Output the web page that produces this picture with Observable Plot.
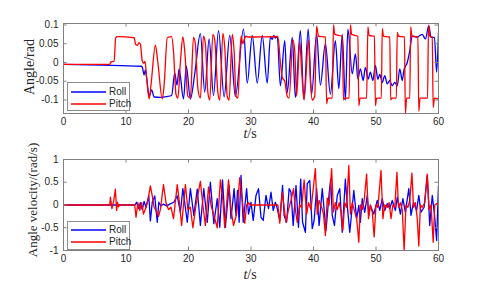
<!DOCTYPE html>
<html>
<head>
<meta charset="utf-8">
<script src="https://cdn.jsdelivr.net/npm/d3@7"></script>
<script src="https://cdn.jsdelivr.net/npm/@observablehq/plot@0.6"></script>
<style>
  html, body { margin: 0; padding: 0; background: #fff; }
  #chart { position: relative; width: 485px; height: 290px; overflow: hidden; background: #fff; }
  #chart svg.plot { position: absolute; left: 0; }
  .ylab, .xlab { position: absolute; font-family: "Liberation Serif", "Times New Roman", serif; color: #262626; white-space: nowrap; }
  .ylab { transform: translate(-50%, -50%) rotate(-90deg); }
  .xlab { transform: translate(-50%, -50%); }
  .legend { position: absolute; border: 1px solid #8c8c8c; background: #fff; box-sizing: border-box; }
  .legend .row { position: absolute; left: 0; height: 0; font-family: "Liberation Sans", Arial, sans-serif; font-size: 10px; color: #262626; }
  .legend .row svg { position: absolute; left: 3px; top: -2px; }
  .legend .row span.t { position: absolute; left: 41px; top: -6px; line-height: 12px; }
</style>
</head>
<body>
<div id="chart"></div>
<script>
// ---- Data ----
const timeTicks = [0, 10, 20, 30, 40, 50, 60];
const angleTicks = [-0.1, -0.05, 0, 0.05, 0.1];
const rateTicks = [-1, -0.5, 0, 0.5, 1];
const seriesNames = ["Roll", "Pitch"];
const seriesColors = ["#0000ff", "#ff0000"];

// Roll angle [t (s), angle (rad)]
const rollAngle = [
  [0,-0.005],[6,-0.007],[12.4,-0.01],[12.6,-0.012],[12.9,-0.033],[13.1,-0.02],[13.3,-0.04],[13.7,-0.09],
  [14.1,-0.073],[14.5,-0.092],[15.5,-0.093],[16.5,-0.091],[17.3,-0.088],[17.8,-0.028],[18.15,-0.06],
  [18.5,-0.018],[19.2,-0.097],[19.65,-0.01],[20.3,-0.097],[21.0,-0.03],[21.9,0.077],[22.6,-0.079],
  [23.3,0.063],[24.0,-0.088],[24.8,0.085],[25.7,-0.092],[26.6,0.072],[27.5,-0.09],[28.8,0.089],
  [29.4,-0.055],[30.2,0.072],[31.0,-0.055],[31.8,0.072],[32.6,-0.055],[33.1,0.068],[33.4,0.062],
  [33.65,0.072],[33.9,0.065],[34.2,0.07],[34.7,-0.062],[35.4,0.058],[35.8,-0.08],[36.6,0.067],
  [37.1,-0.093],[37.9,0.085],[38.45,-0.097],[39.15,0.089],[39.7,-0.084],[40.5,0.076],[41.1,-0.06],
  [41.9,0.05],[42.7,-0.084],[43.5,0.058],[44.05,-0.07],[44.6,0.075],[45.1,-0.1],[45.5,0.089],
  [46.2,-0.03],[46.7,0.023],[47.1,-0.044],[47.5,-0.017],[47.95,-0.048],[48.3,-0.013],[48.75,-0.044],
  [49.1,-0.026],[49.5,-0.048],[49.9,-0.008],[50.3,-0.045],[50.6,-0.032],[51.0,-0.053],[51.4,-0.035],
  [51.8,-0.057],[52.2,-0.048],[52.6,-0.062],[53.0,-0.053],[53.4,-0.062],[53.8,-0.017],[54.2,-0.048],
  [54.45,-0.022],[55.0,0.0],[55.4,0.031],[55.8,0.071],[56.6,0.067],[57.0,0.072],[57.4,0.075],
  [57.9,0.063],[58.45,0.098],[58.8,0.067],[59.35,0.067],[59.7,-0.026],[60,0.08]
];

// Pitch angle [t (s), angle (rad)]
const pitchAngle = [
  [0,-0.005],[7.4,-0.005],[7.6,0.002],[8.1,0.003],[8.35,0.066],[8.6,0.069],[11.3,0.066],[11.55,0.048],
  [11.85,0.046],[12.05,0.053],[12.3,0.049],[12.6,0.004],[12.85,-0.002],[13.05,0.003],[13.3,-0.04],
  [13.7,-0.097],[14.0,-0.06],[14.7,0.046],[15.1,0.0],[15.8,-0.097],[16.1,-0.06],[16.6,0.066],
  [17.3,0.069],[17.6,0.03],[18.0,-0.085],[18.3,-0.095],[18.7,0.0],[19.1,0.068],[19.4,0.03],
  [19.9,-0.09],[20.3,-0.095],[20.8,0.067],[21.1,0.05],[21.5,-0.07],[21.9,-0.095],[22.4,0.07],
  [22.7,0.05],[23.1,-0.08],[23.4,-0.1],[23.9,0.075],[24.2,0.06],[24.7,-0.08],[25.0,-0.1],
  [25.5,0.078],[25.8,0.04],[26.2,-0.09],[26.5,-0.1],[27.0,0.075],[27.3,0.03],[27.6,-0.09],
  [27.9,-0.095],[28.4,0.07],[28.7,0.05],[28.9,0.06],[29.2,0.07],[29.5,0.068],[34.3,0.069],
  [34.7,0.0],[35.0,-0.04],[35.4,-0.05],[35.8,-0.09],[36.1,-0.095],[36.7,0.06],[37.0,0.03],
  [37.3,-0.09],[37.8,0.055],[38.1,-0.02],[38.5,-0.1],[39.2,0.06],[39.5,-0.05],[39.8,-0.1],
  [40.2,-0.09],[40.5,0.097],[40.8,0.07],[41.9,0.068],[42.1,-0.11],[42.3,-0.095],[43.0,-0.095],
  [43.2,0.1],[43.4,0.075],[44.6,0.07],[44.8,-0.1],[45.0,-0.095],[45.7,-0.095],[45.9,0.1],
  [46.1,0.075],[47.1,0.07],[47.25,-0.115],[47.45,-0.095],[48.5,-0.095],[48.7,0.095],[48.9,0.072],
  [49.75,0.07],[49.9,-0.115],[50.1,-0.095],[50.85,-0.095],[51.0,0.09],[51.2,0.07],[52.2,0.068],
  [52.35,-0.1],[52.55,-0.095],[53.25,-0.095],[53.4,0.08],[53.6,0.07],[54.55,0.068],[54.7,-0.136],
  [54.9,-0.095],[55.4,-0.095],[55.55,0.095],[55.75,0.07],[56.7,0.068],[56.85,-0.13],[57.05,-0.095],
  [58.25,-0.095],[58.4,0.1],[58.6,0.07],[59.0,0.068],[59.15,-0.12],[59.35,-0.095],[60,-0.097]
];

// Roll angular velocity [t (s), rate (rad/s)]
const rollRate = [
  [0,0],[11.4,0],[11.7,0.06],[12.0,-0.08],[12.3,0.05],[12.6,-0.1],[12.9,0.08],[13.2,-0.05],
  [13.65,0.2],[13.9,-0.35],[14.2,0.06],[14.6,0.2],[15.0,-0.38],[15.25,0.06],[15.6,-0.02],[16.0,0.02],
  [16.5,-0.02],[17.0,0.02],[17.65,0.06],[18.2,0.2],[18.7,-0.16],[19.1,0.36],[19.8,-0.38],[20.3,0.36],
  [20.85,-0.23],[21.4,0.35],[21.9,-0.45],[22.45,0.36],[23.0,-0.38],[23.5,0.5],[24.05,-0.41],
  [24.6,0.14],[25.0,-0.49],[25.44,0.55],[25.9,-0.49],[26.5,0.43],[26.8,-0.3],[27.3,0.36],
  [27.6,-0.23],[27.85,0.32],[28.1,-0.38],[28.4,0.65],[28.75,-0.38],[29.3,0.36],[29.6,-0.2],
  [30.0,0.06],[30.35,-0.34],[30.8,0.21],[31.2,0.36],[31.6,-0.27],[31.95,-0.34],[32.4,0.21],
  [32.8,-0.08],[33.2,0.28],[33.55,-0.12],[33.9,0.06],[34.2,-0.08],[34.6,-0.34],[35.05,0.43],
  [35.3,-0.23],[35.7,-0.38],[36.1,0.36],[36.4,0.28],[36.75,-0.45],[37.2,0.43],[37.6,-0.49],
  [37.95,0.57],[38.25,-0.38],[38.7,-0.6],[39.0,0.47],[39.4,0.54],[39.8,-0.52],[40.1,-0.34],
  [40.5,0.36],[40.9,-0.45],[41.4,0.36],[42.0,-0.56],[42.5,0.25],[42.75,0.57],[43.0,-0.23],
  [43.35,-0.45],[43.8,0.21],[44.2,0.36],[44.6,-0.6],[45.1,0.57],[45.4,-0.01],[45.8,-0.6],
  [46.45,0.32],[46.9,-0.3],[47.25,-0.01],[47.5,-0.38],[47.8,0.14],[48.2,-0.16],[48.6,0.21],
  [48.85,-0.23],[49.1,-0.01],[49.65,-0.2],[50.2,0.1],[50.6,-0.12],[51.0,0.14],[51.4,-0.12],
  [51.8,0.03],[52.2,-0.08],[52.6,0.1],[53.1,-0.12],[53.4,0.17],[53.9,-0.2],[54.3,0.14],[54.7,-0.16],
  [55.25,0.36],[55.6,-0.23],[56.0,0.06],[56.5,-0.12],[56.85,0.21],[57.2,-0.16],[57.7,-0.05],
  [58.2,0.65],[58.6,-0.45],[59.0,0.21],[59.35,-0.2],[59.7,-0.78],[60,0.43]
];

// Pitch angular velocity [t (s), rate (rad/s)]
const pitchRate = [
  [0,0],[7.4,0],[7.5,0.17],[7.75,-0.08],[8.05,0.1],[8.3,0.35],[8.5,-0.12],[8.65,0.06],[8.8,-0.04],
  [9.0,0],[11.4,0],[11.6,-0.27],[11.9,0.05],[12.2,-0.12],[12.5,0.05],[12.8,-0.2],[13.2,-0.05],
  [13.5,0.1],[13.9,0.42],[14.2,0.2],[14.5,-0.05],[14.8,-0.12],[15.2,-0.25],[15.5,-0.1],[16.0,0.45],
  [16.4,0.05],[16.8,-0.1],[17.2,-0.05],[17.6,-0.3],[18.2,0.45],[18.5,0.1],[18.9,-0.45],[19.5,0.45],
  [19.9,-0.1],[20.3,-0.05],[20.7,-0.5],[21.2,0.0],[21.9,0.52],[22.3,0.0],[22.7,-0.45],[23.2,0.4],
  [23.6,0.0],[24.0,-0.2],[24.6,-0.5],[25.1,0.55],[25.5,0.1],[25.8,-0.5],[26.4,0.55],[26.8,-0.1],
  [27.2,-0.45],[27.7,-0.2],[28.2,0.6],[28.6,0.1],[29.0,-0.4],[29.3,0.0],[29.6,0.05],[29.9,0],
  [34.3,0],[34.6,-0.4],[35.0,0.28],[35.3,-0.05],[35.6,-0.38],[36.0,-0.1],[36.4,0.1],[36.8,0.36],
  [37.1,-0.1],[37.4,-0.38],[37.8,0.0],[38.1,-0.05],[38.5,0.55],[38.9,-0.2],[39.2,0.05],[39.6,-0.1],
  [40.3,0.8],[40.6,-0.2],[40.9,0.1],[41.3,-0.05],[41.6,-0.2],[41.9,-0.67],[42.2,0.15],[42.5,0.0],
  [42.9,0.8],[43.2,-0.15],[43.5,0.05],[43.8,-0.1],[44.1,0.05],[44.4,-0.15],[44.7,-0.55],[45.0,0.05],
  [45.3,-0.05],[45.65,0.87],[45.9,-0.2],[46.2,0.05],[46.6,-0.15],[46.9,-0.3],[47.25,-0.82],
  [47.5,0.0],[47.8,-0.1],[48.1,0.1],[48.5,0.68],[48.8,-0.3],[49.1,0.0],[49.4,-0.15],[49.7,-0.7],
  [50.0,0.0],[50.3,-0.05],[50.8,0.76],[51.1,-0.3],[51.4,0.0],[51.8,-0.05],[52.1,0.05],[52.4,-0.3],
  [52.7,0.0],[53.0,-0.05],[53.35,0.72],[53.6,-0.05],[53.9,0.05],[54.2,-0.1],[54.5,-1.0],[54.8,0.0],
  [55.1,-0.05],[55.4,0.1],[55.75,0.7],[56.0,-0.05],[56.3,0.05],[56.6,-0.3],[56.85,-0.9],[57.1,0.0],
  [57.4,-0.05],[57.8,0.05],[58.2,0.68],[58.5,-0.1],[58.8,0.0],[59.15,-0.82],[59.4,0.0],[59.7,0.03],
  [60,0.0]
];

// ---- Drawing ----
const chart = document.getElementById("chart");
const W = 485, H = 145, ML = 63, MR = 47, TL = 3.5;
const axisGray = "#808080";

function panel({top, mt, mb, yDomain, yTicks, roll, pitch, curve}) {
  const ph = H - mt - mb, pw = W - ML - MR;
  const fmt = d => String(d);
  const svg = Plot.plot({
    width: W, height: H,
    marginLeft: ML, marginRight: MR, marginTop: mt, marginBottom: mb,
    x: {domain: [0, 60]},
    y: {domain: yDomain},
    style: {fontFamily: "'Liberation Sans', Arial, sans-serif", fontSize: "10px", color: "#262626", background: "transparent", overflow: "visible"},
    marks: [
      Plot.line(roll, {x: d => d[0], y: d => d[1], stroke: seriesColors[0], strokeWidth: 1.3, curve, clip: true}),
      Plot.line(pitch, {x: d => d[0], y: d => d[1], stroke: seriesColors[1], strokeWidth: 1.3, curve, clip: true}),
      Plot.frame({stroke: axisGray, strokeWidth: 1}),
      Plot.tickX(timeTicks, {x: d => d, stroke: axisGray, insetBottom: ph - TL}),
      Plot.tickX(timeTicks, {x: d => d, stroke: axisGray, insetTop: ph - TL}),
      Plot.tickY(yTicks, {y: d => d, stroke: axisGray, insetRight: pw - TL}),
      Plot.tickY(yTicks, {y: d => d, stroke: axisGray, insetLeft: pw - TL}),
      Plot.axisX(timeTicks, {tickSize: 0, tickPadding: 4, tickFormat: fmt, label: null}),
      Plot.axisY(yTicks, {tickSize: 0, tickPadding: 5, tickFormat: fmt, label: null})
    ]
  });
  svg.classList.add("plot");
  svg.style.top = top + "px";
  chart.appendChild(svg);
}

panel({top: 0, mt: 23, mb: 32, yDomain: [-0.136, 0.104], yTicks: angleTicks,
       roll: rollAngle, pitch: pitchAngle, curve: "monotone-x"});
panel({top: 145, mt: 14, mb: 40, yDomain: [-1, 1], yTicks: rateTicks,
       roll: rollRate, pitch: pitchRate, curve: "linear"});

function addLabel(cls, html, x, y, size) {
  const d = document.createElement("div");
  d.className = cls;
  d.innerHTML = html;
  d.style.left = x + "px";
  d.style.top = y + "px";
  d.style.fontSize = size + "px";
  chart.appendChild(d);
}
addLabel("ylab", "Angle/rad", 30, 67, 14);
addLabel("xlab", "<i>t</i>/s", 250, 134, 14);
addLabel("ylab", "Angle velocity/(rad/s)", 33, 200, 13);
addLabel("xlab", "<i>t</i>/s", 250, 275, 14);

function addLegend(x, y, w, h, rows) {
  const box = document.createElement("div");
  box.className = "legend";
  Object.assign(box.style, {left: x + "px", top: y + "px", width: w + "px", height: h + "px"});
  seriesNames.forEach((name, i) => {
    const r = document.createElement("div");
    r.className = "row";
    r.style.top = rows[i] + "px";
    r.innerHTML = `<svg width="35" height="4"><line x1="0" x2="35" y1="2" y2="2" stroke="${seriesColors[i]}" stroke-width="1.3"/></svg><span class="t">${name}</span>`;
    box.appendChild(r);
  });
  chart.appendChild(box);
}
addLegend(67, 82, 63, 29, [8.5, 21]);
addLegend(67, 221, 63, 28.5, [8, 19.5]);
</script>
</body>
</html>
